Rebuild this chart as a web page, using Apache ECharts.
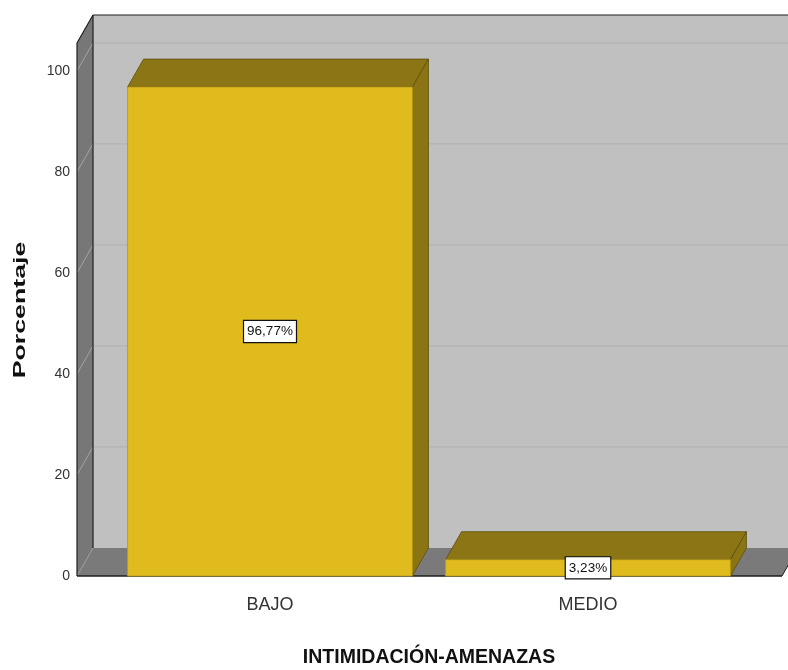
<!DOCTYPE html>
<html><head><meta charset="utf-8">
<script src="https://cdn.jsdelivr.net/npm/echarts@6/dist/echarts.min.js"></script>
<style>html,body{margin:0;padding:0;background:#fff}#c{width:788px;height:670px}</style>
</head><body><div id="c"></div>
<script>
const categories = ['BAJO', 'MEDIO'];
const percentages = [96.77, 3.23];
const yTicks = [0, 20, 40, 60, 80, 100];
const xTitle = 'INTIMIDACIÓN-AMENAZAS';
const yTitle = 'Porcentaje';

const DX = 16, DY = -28;
const FONT = "'Liberation Sans Narrow', 'Arial Narrow', 'Liberation Sans', Arial, sans-serif";

function wallsRender(params, api) {
  const cs = params.coordSys;
  const W = api.getWidth();
  const xL = cs.x - 34;
  const xR = cs.x + cs.width + 35;
  const y0 = api.coord([0, 0])[1];
  const yTop = cs.y;
  const ch = [];
  ch.push({type:'rect', shape:{x:xL+DX, y:yTop+DY, width:W + 40 - xL - DX, height:y0 - yTop}, style:{fill:'#c0c0c0'}});
  ch.push({type:'polygon', shape:{points:[[xL,yTop],[xL+DX,yTop+DY],[xL+DX,y0+DY],[xL,y0]]}, style:{fill:'#777777'}});
  ch.push({type:'polygon', shape:{points:[[xL,y0],[xL+DX,y0+DY],[xR+DX,y0+DY],[xR,y0]]}, style:{fill:'#7a7a7a'}});
  yTicks.forEach(v => {
    if (v === 0) return;
    const y = api.coord([0, v])[1];
    ch.push({type:'line', shape:{x1:xL, y1:y, x2:xL+DX, y2:y+DY}, style:{stroke:'#a3a3a3', lineWidth:1}});
    ch.push({type:'line', shape:{x1:xL+DX, y1:y+DY, x2:W+40, y2:y+DY}, style:{stroke:'#b3b3b3', lineWidth:1.2}});
  });
  const dark = '#1e1e1e';
  ch.push({type:'line', shape:{x1:xL, y1:y0, x2:xL+DX, y2:y0+DY}, style:{stroke:'#9a9a9a', lineWidth:1}});
  ch.push({type:'line', shape:{x1:xL+DX, y1:yTop+DY, x2:W+40, y2:yTop+DY}, style:{stroke:dark, lineWidth:1.2}});
  ch.push({type:'line', shape:{x1:xL, y1:yTop, x2:xL+DX, y2:yTop+DY}, style:{stroke:dark, lineWidth:1.2}});
  ch.push({type:'line', shape:{x1:xL, y1:yTop, x2:xL, y2:y0}, style:{stroke:dark, lineWidth:1.2}});
  ch.push({type:'line', shape:{x1:xL+DX, y1:yTop+DY, x2:xL+DX, y2:y0+DY}, style:{stroke:dark, lineWidth:1.2}});
  ch.push({type:'line', shape:{x1:xL, y1:y0, x2:xR, y2:y0}, style:{stroke:dark, lineWidth:1.5}});
  ch.push({type:'line', shape:{x1:xR, y1:y0, x2:xR+DX, y2:y0+DY}, style:{stroke:dark, lineWidth:1}});
  return {type:'group', children:ch};
}

function fmt(v) { return v.toFixed(2).replace('.', ',') + '%'; }

function barRender(params, api) {
  const idx = api.value(0), val = api.value(1);
  const top = api.coord([idx, val]);
  const base = api.coord([idx, 0]);
  const bw = api.size([1, 0])[0] * 0.896;
  const x0 = top[0] - bw / 2, x1 = top[0] + bw / 2;
  const yt = top[1], yb = base[1];
  const edge = '#5e4f0c';
  return {type:'group', children:[
    {type:'polygon', shape:{points:[[x0,yt],[x1,yt],[x1+DX,yt+DY],[x0+DX,yt+DY]]}, style:{fill:'#8b7515', stroke:edge, lineWidth:0.8}},
    {type:'polygon', shape:{points:[[x1,yt],[x1+DX,yt+DY],[x1+DX,yb+DY],[x1,yb]]}, style:{fill:'#8a7414', stroke:edge, lineWidth:0.8}},
    {type:'rect', shape:{x:x0, y:yt, width:bw, height:yb-yt}, style:{fill:'#e0bb1e', stroke:'#b89a18', lineWidth:0.8}},
    {type:'text', style:{text:fmt(val), x:top[0], y:(yt+yb)/2, align:'center', verticalAlign:'middle',
      fontSize:13.5, fontFamily:FONT, fill:'#111', backgroundColor:'#ffffff', borderColor:'#111', borderWidth:1.2, padding:[4,3,3,3]}, z2:10}
  ]};
}

const chart = echarts.init(document.getElementById('c'), null, {renderer:'canvas'});
chart.setOption({
  animation:false,
  backgroundColor:'#ffffff',
  grid:{left:111, right:41, top:43, bottom:94, containLabel:false, outerBoundsMode:'none'},
  xAxis:{type:'category', data:categories, boundaryGap:true,
    axisLine:{show:false}, axisTick:{show:false}, splitLine:{show:false},
    axisLabel:{fontSize:18, fontFamily:FONT, color:'#333', margin:20},
    name:xTitle, nameLocation:'middle', nameGap:72,
    nameTextStyle:{fontSize:19.5, fontWeight:'bold', fontFamily:FONT, color:'#111'}},
  yAxis:{type:'value', min:0, max:105.5, interval:20,
    axisLine:{show:false}, axisTick:{show:false}, splitLine:{show:false},
    axisLabel:{fontSize:14, fontFamily:FONT, color:'#333', margin:41, showMaxLabel:false}},
  graphic:[{type:'text', x:20, y:310, rotation:Math.PI/2, scaleX:1.57,
    style:{text:yTitle, fontSize:17, fontWeight:'bold', fontFamily:"'Liberation Sans', Arial, sans-serif", fill:'#111', align:'center', verticalAlign:'middle'}}],
  series:[
    {type:'custom', renderItem:wallsRender, data:[[0,0]], silent:true, z:1, clip:false},
    {type:'custom', renderItem:barRender, data:categories.map((c,i)=>[i, percentages[i]]), z:2, clip:false}
  ]
});
</script></body></html>
